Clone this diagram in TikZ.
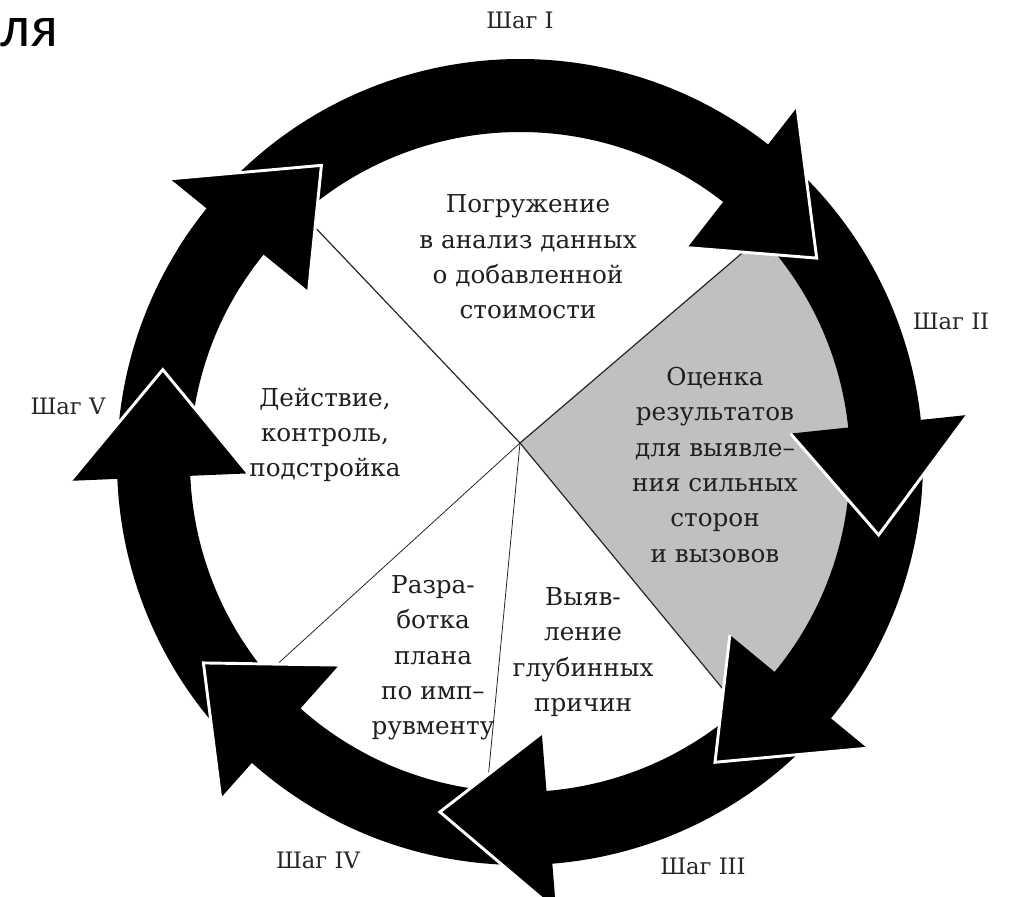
\documentclass[tikz,border=0pt]{standalone}
\usepackage{fontspec}
\setmainfont{DejaVu Serif}
\newfontfamily\titlefont{Carlito}
\usetikzlibrary{calc}

\definecolor{sectorgray}{RGB}{192,192,192}

\tikzset{every picture/.style={line width=0.75pt}}
\tikzset{
	arrowfill/.style={fill=black},
	arrowedge/.style={draw=white, line width=2.2pt, line join=miter},
	sectorline/.style={draw=black!85, line width=0.9pt},
	thinline/.style={draw=black!85, line width=0.6pt},
	steptext/.style={align=center, inner sep=0.75pt, text=black!88, font=\fontsize{18.5}{26.5}\selectfont},
	steplabel/.style={inner sep=0.75pt, text=black!85, font=\fontsize{17}{20}\selectfont},
}

% ring radii and head barbs
\newcommand{\ringin}{330}
\newcommand{\ringout}{403}
\newcommand{\barbin}{272}
\newcommand{\barbout}{450}

% #1 tail angle, #2 barb angle, #3 tip angle, #4 tip radius
\newcommand{\cyclearrow}[4]{%
	\fill[arrowfill] ($(C)+(#1:\ringout)$) arc[start angle=#1, end angle=#2, radius=\ringout] -- ($(C)+(#2:\barbout)$) -- ($(C)+(#3:#4)$) -- ($(C)+(#2:\barbin)$) -- ($(C)+(#2:\ringin)$) arc[start angle=#2, end angle=#1, radius=\ringin] -- cycle;
	\draw[arrowedge] ($(C)+(#2:\barbout)$) -- ($(C)+(#3:#4)$) -- ($(C)+(#2:\barbin)$);
}

\begin{document}
\begin{tikzpicture}[x=0.75pt,y=0.75pt,yscale=-1,xscale=1]
	\useasboundingbox (0,0) rectangle (1009,896);
	\clip (0,0) rectangle (1009,896);
	
	\coordinate (C) at (520,462);
	\coordinate (P) at (520,443);
	
	%Shape: gray sector
	\begin{scope}
		\clip (C) circle[radius=345];
		\fill[sectorgray] (P) -- ($(P)!3!(748,248)$) -- (1300,443) -- ($(P)!3!(732,700)$) -- cycle;
	\end{scope}
	
	%Straight Lines: sector borders
	\draw[sectorline] (P) -- (310,222);
	\draw[sectorline] (P) -- (748,248);
	\draw[sectorline] (P) -- (732,700);
	\draw[thinline] (P) -- (487,790);
	\draw[thinline] (P) -- (272,669);
	
	%Shape: ring of arrows
	\cyclearrow{537.6}{579}{596.2}{357}
	\cyclearrow{491.7}{537.6}{554.5}{369}
	\cyclearrow{445.4}{491.7}{507.6}{375}
	\cyclearrow{399.5}{445.4}{462.9}{359}
	\cyclearrow{354}{399.5}{417}{358}
	\cyclearrow{308}{354}{371.5}{366}
	\cyclearrow{219}{308}{325.5}{360}
	% head of the last arrow over the first tail
	\begin{scope}
		\clip (C) -- ($(C)+(212:700)$) -- ($(C)+(236:800)$) -- ($(C)+(262:700)$) -- cycle;
		\cyclearrow{537.6}{579}{596.2}{357}
	\end{scope}
	
	% Text Node
	\node (titlecut) at (0,46) [anchor=base west, inner sep=0pt, font=\titlefont\fontsize{44}{46}\selectfont] {ля};
	% Text Node
	\node (immersion) at (528,257) [steptext] {Погружение\\в анализ данных\\о добавленной\\стоимости};
	% Text Node
	\node (action) at (325,435) [steptext] {Действие,\\контроль,\\подстройка};
	% Text Node
	\node (assess) at (715,465) [steptext] {Оценка\\результатов\\для выявле–\\ния сильных\\сторон\\и вызовов};
	% Text Node
	\node (plan) at (433,658) [steptext] {Разра-\\ботка\\плана\\по имп–\\рувменту};
	% Text Node
	\node (causes) at (583,652) [steptext] {Выяв-\\ление\\глубинных\\причин};
	
	% Text Node
	\node (step1) at (520,20) [steplabel] {Шаг I};
	% Text Node
	\node (step2) at (951,321) [steplabel] {Шаг II};
	% Text Node
	\node (step3) at (703,866) [steplabel] {Шаг III};
	% Text Node
	\node (step4) at (318,860) [steplabel] {Шаг IV};
	% Text Node
	\node (step5) at (68,406) [steplabel] {Шаг V};
	
\end{tikzpicture}
\end{document}
